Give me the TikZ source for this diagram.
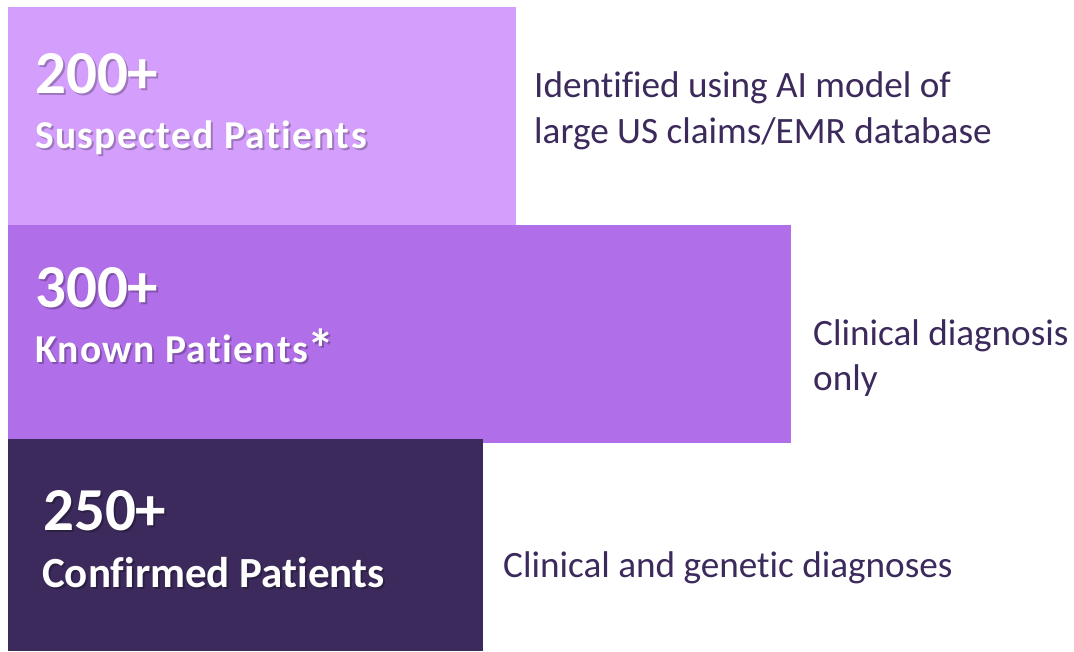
\documentclass[tikz,border=0pt]{standalone}
\usepackage{fontspec}
\setmainfont[Ligatures=CommonOff]{Carlito}
\newfontfamily\labelfont[Ligatures=CommonOff,LetterSpace=3.5]{Carlito}
\definecolor{barlight}{RGB}{212,158,253}
\definecolor{barmid}{RGB}{176,110,232}
\definecolor{bardark}{RGB}{60,42,92}
\definecolor{notecol}{RGB}{60,42,92}
\newcommand{\bigstar}{\raisebox{-5pt}{\fontsize{54}{54}\selectfont *}}
\begin{document}
\begin{tikzpicture}[x=1pt,y=-1pt,
  bar/.style={draw=none,inner sep=0pt,anchor=north west},
  big/.style={anchor=base west,inner sep=0pt,text=white,font=\fontsize{61}{61}\selectfont\bfseries},
  sub/.style={anchor=base west,inner sep=0pt,text=white,font=\labelfont\fontsize{39.5}{39.5}\selectfont\bfseries},
  subwide/.style={anchor=base west,inner sep=0pt,text=white,font=\fontsize{43}{43}\selectfont\bfseries},
  shade/.style={text=black,opacity=0.25},
  note/.style={anchor=base west,inner sep=0pt,text=notecol,font=\fontsize{37.2}{37.2}\selectfont}]
\useasboundingbox (0,0) rectangle (1074,651);
\fill[white] (0,0) rectangle (1074,651);
% stacked bars
\node[bar,fill=barlight,minimum width=508pt,minimum height=218pt] (b1) at (8,7) {};
\node[bar,fill=barmid,minimum width=783pt,minimum height=218pt] (b2) at (8,225) {};
\node[bar,fill=bardark,minimum width=475pt,minimum height=212pt] (b3) at (8,439) {};
% headline figures with soft drop shadow
\node[big,shade] (s200) at (37,95) {200+};
\node[big] (n200) at (35,93) {200+};
\node[sub,shade] (ssus) at (37,150) {Suspected Patients};
\node[sub] (nsus) at (35,148) {Suspected Patients};
\node[big,shade] (s300) at (37,309) {300+};
\node[big] (n300) at (35,307) {300+};
\node[sub,shade] (skno) at (37,364) {Known Patients\bigstar};
\node[sub] (nkno) at (35,362) {Known Patients\bigstar};
\node[big,shade] (s250) at (45,532) {250+};
\node[big] (n250) at (43,530) {250+};
\node[subwide,shade] (scon) at (44,589) {Confirmed Patients};
\node[subwide] (ncon) at (42,587) {Confirmed Patients};
% descriptions
\node[note] (d1a) at (534,97) {Identified using AI model of};
\node[note] (d1b) at (534,143) {large US claims/EMR database};
\node[note] (d2a) at (813,345) {Clinical diagnosis};
\node[note] (d2b) at (813,390) {only};
\node[note] (d3) at (503,577) {Clinical and genetic diagnoses};
\end{tikzpicture}
\end{document}
